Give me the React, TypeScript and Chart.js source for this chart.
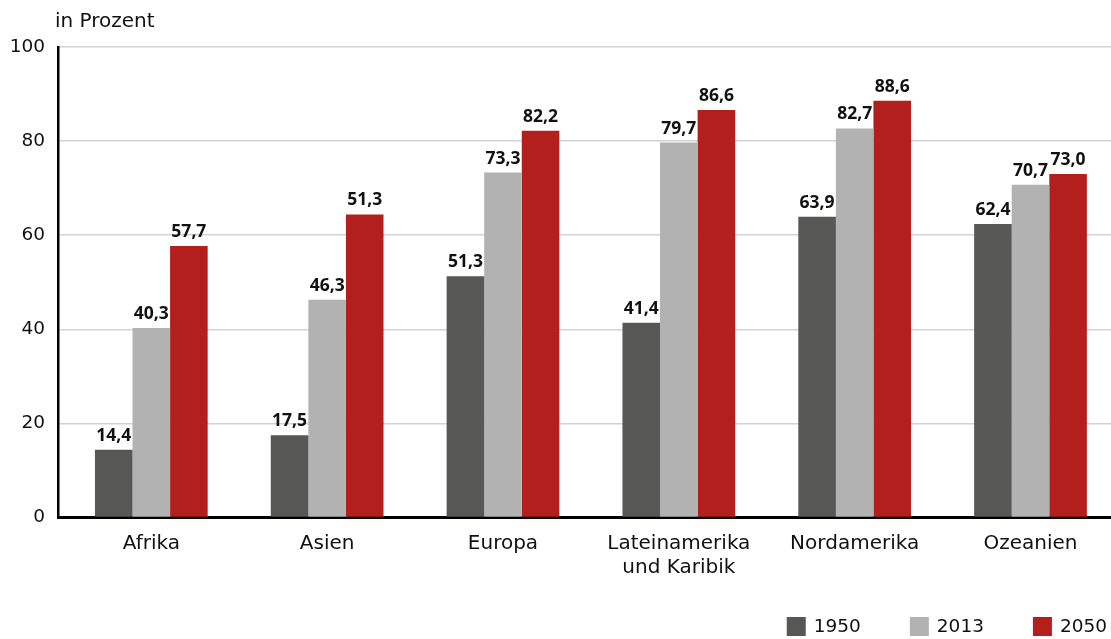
import React, { useEffect, useRef } from 'react';
import { Chart, registerables } from 'chart.js';

Chart.register(...registerables);

const categories: string[][] = [
  ['Afrika'],
  ['Asien'],
  ['Europa'],
  ['Lateinamerika', 'und Karibik'],
  ['Nordamerika'],
  ['Ozeanien'],
];
const seriesNames = ['1950', '2013', '2050'];
const values1950 = [14.4, 17.5, 51.3, 41.4, 63.9, 62.4];
const values2013 = [40.3, 46.3, 73.3, 79.7, 82.7, 70.7];
const values2050 = [57.7, 64.4, 82.2, 86.6, 88.6, 73.0];
const printed1950 = ['14,4', '17,5', '51,3', '41,4', '63,9', '62,4'];
const printed2013 = ['40,3', '46,3', '73,3', '79,7', '82,7', '70,7'];
const printed2050 = ['57,7', '51,3', '82,2', '86,6', '88,6', '73,0'];
const yTicks = [0, 20, 40, 60, 80, 100];
const axisTitle = 'in Prozent';
const colors = ['#575756', '#b2b2b2', '#b21f1c'];

const allValues = [values1950, values2013, values2050];
const allPrinted = [printed1950, printed2013, printed2050];

const TEXT = '#111111';
const WORD_FONT = '"DejaVu Sans", sans-serif';

const decorPlugin = {
  id: 'decor',
  afterDraw(chart: any) {
    const ctx = chart.ctx;
    const area = chart.chartArea;
    ctx.save();
    // axis title
    ctx.fillStyle = TEXT;
    ctx.font = `20px ${WORD_FONT}`;
    ctx.textAlign = 'left';
    ctx.textBaseline = 'alphabetic';
    ctx.fillText(axisTitle, area.left - 3, 27);

    // value labels
    ctx.font = 'bold 17.5px "Open Sans", sans-serif';
    ctx.textAlign = 'center';
    chart.data.datasets.forEach((ds: any, s: number) => {
      const meta = chart.getDatasetMeta(s);
      meta.data.forEach((el: any, i: number) => {
        ctx.fillText(allPrinted[s][i], el.x, el.y - 9);
      });
    });

    // legend (right aligned, bottom)
    ctx.font = `18.5px ${WORD_FONT}`;
    ctx.textAlign = 'left';
    ctx.textBaseline = 'middle';
    const box = 19;
    const gapBoxText = 8;
    const gapItems = 49;
    const boxTop = 617;
    let right = chart.width - 4;
    for (let s = seriesNames.length - 1; s >= 0; s--) {
      const w = ctx.measureText(seriesNames[s]).width;
      const tx = right - w;
      const bx = tx - gapBoxText - box;
      ctx.fillStyle = colors[s];
      ctx.fillRect(bx, boxTop, box, box);
      ctx.fillStyle = TEXT;
      ctx.fillText(seriesNames[s], tx, boxTop + box / 2 + 1);
      right = bx - gapItems;
    }
    ctx.restore();
  },
};

export default function App() {
  const canvasRef = useRef<HTMLCanvasElement | null>(null);

  useEffect(() => {
    const canvas = canvasRef.current;
    if (!canvas) return;
    const chart = new Chart(canvas, {
      type: 'bar',
      data: {
        datasets: seriesNames.map((name, s) => ({
          label: name,
          data: allValues[s].map((v, i) => ({ x: i, y: v })),
          backgroundColor: colors[s],
          borderWidth: 0,
          barPercentage: 1,
          categoryPercentage: 0.641,
        })),
      },
      options: {
        responsive: false,
        animation: false,
        devicePixelRatio: 1,
        layout: { padding: { top: 47, left: 0, right: 0, bottom: 0 } },
        plugins: {
          legend: { display: false },
          tooltip: { enabled: false },
          title: { display: false },
        },
        scales: {
          x: {
            type: 'linear',
            offset: false,
            min: -0.5306,
            max: 5.4578,
            z: 1,
            grid: { display: false, drawTicks: false },
            border: { display: true, color: '#000000', width: 3 },
            afterBuildTicks: (scale: any) => {
              scale.ticks = categories.map((_, i) => ({ value: i }));
            },
            afterFit: (scale: any) => {
              scale.height = 121.5;
            },
            ticks: {
              autoSkip: false,
              maxRotation: 0,
              padding: 14,
              color: TEXT,
              font: { family: WORD_FONT, size: 20 },
              callback: (v: any) => categories[v as number] ?? '',
            },
          } as any,
          y: {
            min: 0,
            max: 100,
            afterBuildTicks: (scale: any) => {
              scale.ticks = yTicks.map((v) => ({ value: v }));
            },
            afterFit: (scale: any) => {
              scale.width = 58;
            },
            grid: {
              drawTicks: false,
              lineWidth: 1.5,
              color: (c: any) => (c.tick && c.tick.value === 0 ? 'rgba(0,0,0,0)' : '#d2d2d2'),
            },
            border: { display: true, color: '#000000', width: 2.5 },
            ticks: {
              padding: 13,
              color: TEXT,
              font: { family: WORD_FONT, size: 18.5 },
            },
          } as any,
        },
      },
      plugins: [decorPlugin],
    });
    return () => chart.destroy();
  }, []);

  return (
    <div
      style={{
        position: 'fixed',
        left: 0,
        top: 0,
        width: 1111,
        height: 639,
        background: '#ffffff',
      }}
    >
      <canvas ref={canvasRef} width={1111} height={639} style={{ display: 'block' }} />
    </div>
  );
}
